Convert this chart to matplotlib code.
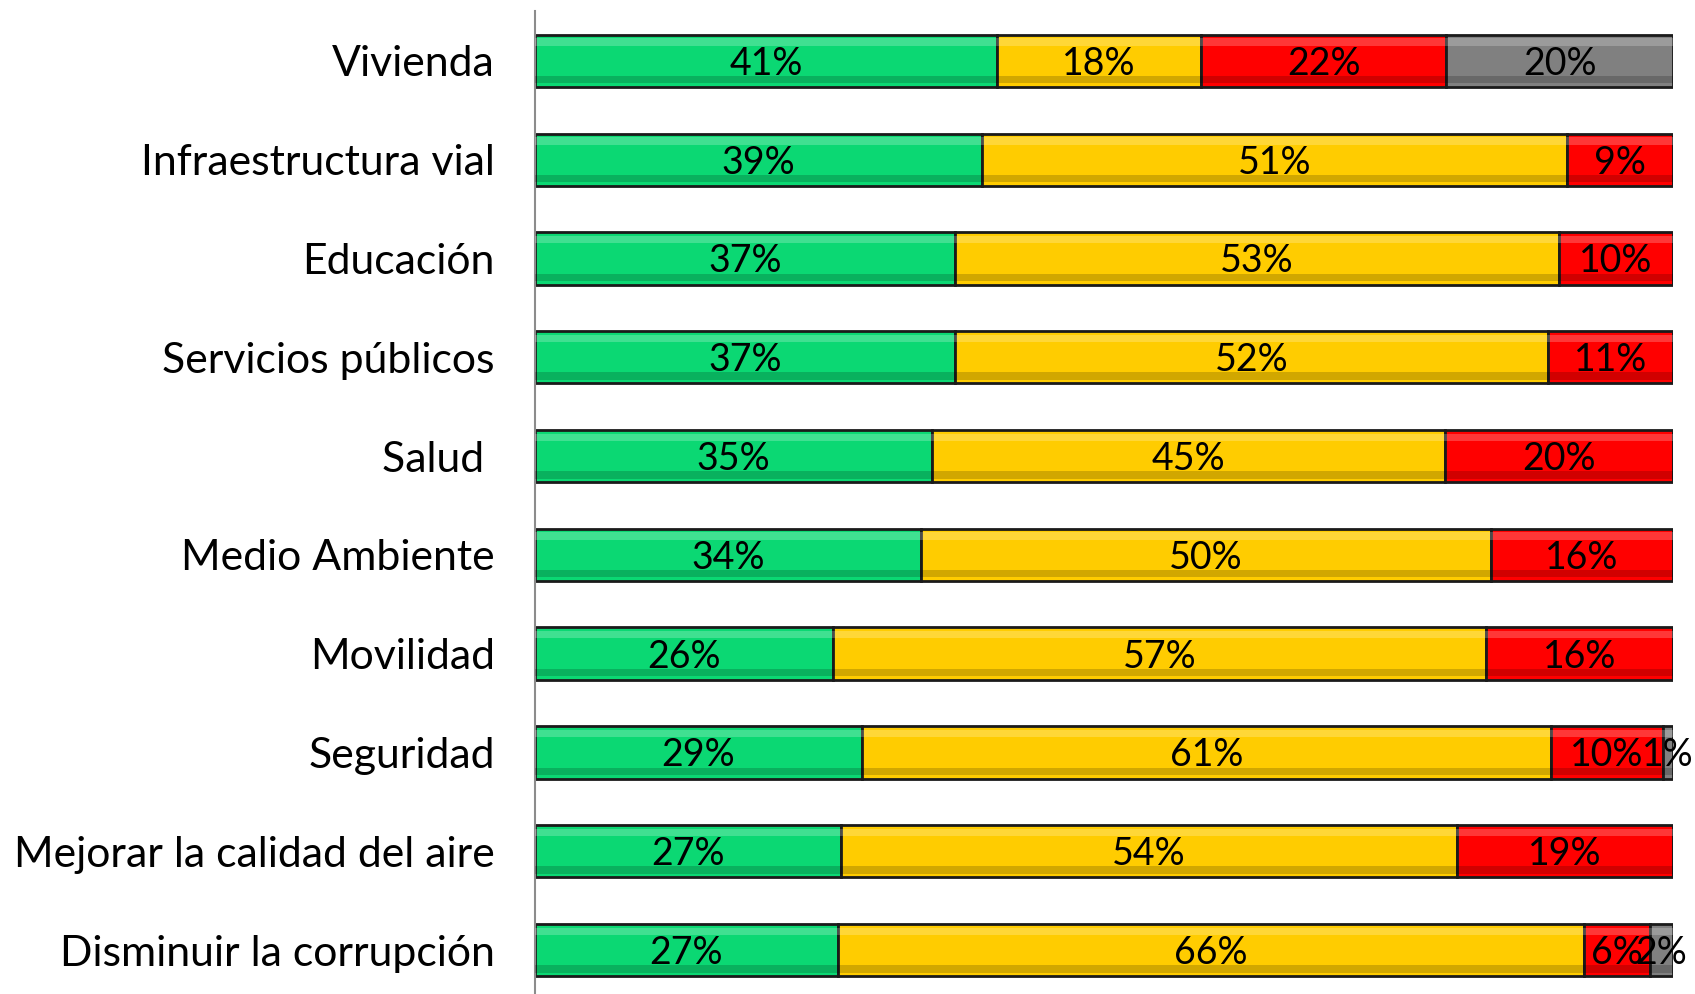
import numpy as np
from matplotlib import pyplot as plt

categorias = ['Vivienda', 'Infraestructura vial', 'Educación', 'Servicios públicos',
              'Salud ', 'Medio Ambiente', 'Movilidad', 'Seguridad',
              'Mejorar la calidad del aire', 'Disminuir la corrupción']

# porcentajes por categoria (verde, amarillo, rojo, gris)
verde = [40.6, 39.3, 36.9, 36.9, 34.9, 33.9, 26.2, 28.7, 26.9, 26.6]
amarillo = [17.9, 51.4, 53.1, 52.1, 45.1, 50.1, 57.4, 60.6, 54.1, 65.6]
rojo = [21.6, 9.3, 10.0, 11.0, 20.0, 16.0, 16.4, 9.8, 19.0, 5.8]
gris = [19.9, 0, 0, 0, 0, 0, 0, 0.9, 0, 2.0]

series = [verde, amarillo, rojo, gris]
colores = ['#0bd873', '#ffcc00', '#ff0000', '#808080']

fig = plt.figure(figsize=(16.95, 9.94), dpi=100)
ax = fig.add_axes([0.3156, 0.0, 0.6714, 0.989])

y = np.arange(len(categorias))
alto = 0.53
izq = np.zeros(len(categorias))

for valores, color in zip(series, colores):
    valores = np.array(valores, dtype=float)
    ax.barh(y, valores, left=izq, height=alto, color=color,
            edgecolor='#1a1a1a', linewidth=2, zorder=2)
    # efecto bisel: franja clara arriba y oscura abajo
    mask = valores > 0
    ax.barh(y[mask] - alto * 0.36, valores[mask], left=izq[mask], height=alto * 0.14,
            color='white', alpha=0.22, linewidth=0, zorder=3)
    ax.barh(y[mask] + alto * 0.36, valores[mask], left=izq[mask], height=alto * 0.14,
            color='black', alpha=0.18, linewidth=0, zorder=3)
    for i in range(len(categorias)):
        if valores[i] > 0:
            ax.text(izq[i] + valores[i] / 2, y[i] + 0.03, f"{valores[i]:.0f}%",
                    ha='center', va='center', fontsize=27, family='Lato',
                    color='black', zorder=4)
    izq = izq + valores

ax.set_xlim(0, 100)
ax.set_ylim(9.445, -0.506)
ax.set_yticks(y)
ax.set_yticklabels(categorias, fontsize=30.8, family='Lato')
ax.tick_params(axis='y', length=0, pad=29)
ax.set_xticks([])
for lado in ['top', 'right', 'bottom']:
    ax.spines[lado].set_visible(False)
ax.spines['left'].set_color('#8c8c8c')
ax.spines['left'].set_linewidth(1.5)

plt.savefig('out.png', dpi=100)
